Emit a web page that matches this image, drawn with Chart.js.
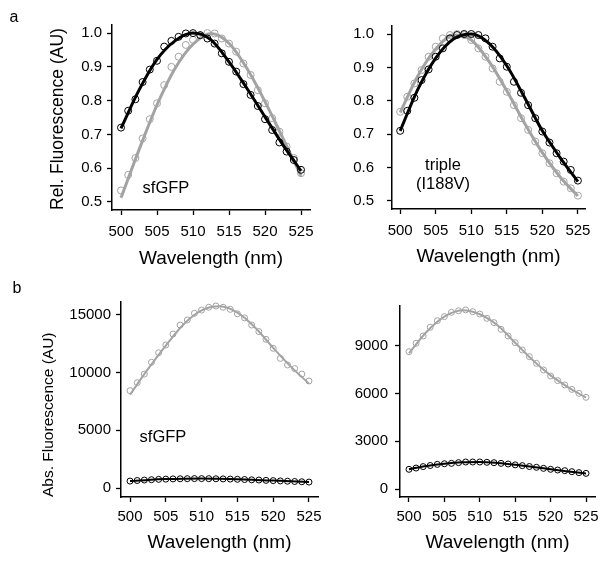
<!DOCTYPE html>
<html>
<head>
<meta charset="utf-8">
<script src="https://cdn.jsdelivr.net/npm/chart.js@4.4.1/dist/chart.umd.min.js"></script>
<style>
  html, body { margin: 0; padding: 0; background: #fff; }
  #wrap { position: relative; width: 608px; height: 561px; font-family: "Liberation Sans", Arial, sans-serif; color: #000; }
  #wrap canvas { position: absolute; left: 0; top: 0; }
  .lbl { position: absolute; transform: translate(-50%, -50%); white-space: nowrap; line-height: 1; text-align: center; }
</style>
</head>
<body>
<div id="wrap">
  <canvas id="aL" width="608" height="561"></canvas>
  <canvas id="aR" width="608" height="561"></canvas>
  <canvas id="bL" width="608" height="561"></canvas>
  <canvas id="bR" width="608" height="561"></canvas>
  <div class="lbl" style="left:14px;top:17px;font-size:16px">a</div>
  <div class="lbl" style="left:17px;top:288px;font-size:16px">b</div>
  <div class="lbl" style="left:166px;top:187px;font-size:16.5px">sfGFP</div>
  <div class="lbl" style="left:443px;top:164px;font-size:16.5px">triple</div>
  <div class="lbl" style="left:443px;top:183px;font-size:16.5px">(I188V)</div>
  <div class="lbl" style="left:163px;top:436px;font-size:16.5px">sfGFP</div>
</div>
<script>
  // --- データ ---
  const wavelengths = [500, 501, 502, 503, 504, 505, 506, 507, 508, 509, 510, 511, 512,
                       513, 514, 515, 516, 517, 518, 519, 520, 521, 522, 523, 524, 525];
  const fitWavelengths = [500, 502.5, 505, 507.5, 510, 512.5, 515, 517.5, 520, 522.5, 525];
  const wavelengthTicks = [500, 505, 510, 515, 520, 525];
  const relTicks = [0.5, 0.6, 0.7, 0.8, 0.9, 1.0];
  const absTicksSf = [0, 5000, 10000, 15000];
  const absTicksTriple = [0, 3000, 6000, 9000];

  // a: sfGFP (rel.)
  const relSfBlack = [0.720, 0.770, 0.804, 0.855, 0.892, 0.918, 0.960, 0.977, 0.989, 0.999, 1.000, 0.994, 0.984,
                      0.969, 0.940, 0.915, 0.886, 0.849, 0.817, 0.784, 0.745, 0.713, 0.676, 0.649, 0.624, 0.595];
  const relSfGray = [0.534, 0.580, 0.630, 0.688, 0.745, 0.792, 0.846, 0.900, 0.930, 0.965, 0.980, 0.994, 1.000,
                     0.999, 0.984, 0.969, 0.945, 0.910, 0.876, 0.831, 0.792, 0.748, 0.708, 0.664, 0.630, 0.585];
  const relSfBlackFit = [0.718, 0.831, 0.922, 0.977, 1.000, 0.980, 0.915, 0.836, 0.752, 0.669, 0.592];
  const relSfGrayFit = [0.512, 0.654, 0.787, 0.895, 0.967, 0.999, 0.970, 0.895, 0.797, 0.688, 0.577];

  // a: triple (I188V) (rel.)
  const relTriBlack = [0.710, 0.770, 0.809, 0.862, 0.894, 0.932, 0.957, 0.987, 0.997, 1.000, 1.000, 0.997, 0.987,
                       0.962, 0.927, 0.902, 0.857, 0.824, 0.787, 0.748, 0.708, 0.675, 0.643, 0.618, 0.593, 0.561];
  const relTriGray = [0.767, 0.812, 0.852, 0.892, 0.932, 0.962, 0.987, 0.997, 1.000, 0.997, 0.982, 0.957, 0.932,
                      0.897, 0.857, 0.827, 0.787, 0.748, 0.713, 0.678, 0.643, 0.613, 0.583, 0.558, 0.538, 0.516];
  const relTriBlackFit = [0.710, 0.835, 0.928, 0.985, 1.000, 0.972, 0.905, 0.810, 0.710, 0.630, 0.558];
  const relTriGrayFit = [0.765, 0.875, 0.955, 0.997, 0.982, 0.918, 0.830, 0.733, 0.645, 0.572, 0.515];

  // b: sfGFP (abs.)
  const absSfBlack = [600, 650, 690, 720, 750, 770, 790, 800, 810, 815, 815, 810, 800,
                      790, 775, 755, 735, 710, 690, 665, 640, 615, 590, 565, 540, 515];
  const absSfGray = [8440, 9130, 9880, 10900, 11730, 12400, 13350, 14130, 14570, 15150, 15430, 15670, 15780,
                     15670, 15490, 15100, 14750, 14130, 13560, 12890, 12110, 11240, 10670, 10350, 9880, 9280];
  const absSfBlackFit = [600, 700, 770, 805, 815, 795, 755, 700, 640, 580, 515];
  const absSfGrayFit = [8100, 10300, 12350, 14200, 15400, 15750, 15200, 13900, 12150, 10500, 9050];

  // b: triple (abs.)
  const absTriBlack = [1240, 1320, 1410, 1480, 1550, 1590, 1615, 1660, 1700, 1700, 1700, 1680, 1655,
                       1615, 1575, 1520, 1470, 1415, 1365, 1300, 1240, 1195, 1155, 1090, 1030, 985];
  const absTriGray = [8640, 9170, 9630, 10180, 10590, 10850, 11120, 11220, 11270, 11160, 11010, 10740, 10470,
                      10050, 9630, 9210, 8750, 8330, 7910, 7490, 7110, 6820, 6550, 6270, 6020, 5770];
  const absTriBlackFit = [1250, 1450, 1590, 1680, 1700, 1640, 1530, 1390, 1240, 1100, 980];
  const absTriGrayFit = [8550, 9900, 10850, 11250, 11000, 10300, 9200, 8100, 7150, 6400, 5750];

  const GRAY = "#a3a3a3";
  const BLACK = "#000";
  const FONT = "'Liberation Sans', Arial, sans-serif";

  const pts = (xs, ys) => xs.map((x, i) => ({ x, y: ys[i] }));

  // 1パネル分のチャート（全キャンバス同サイズで重ねる）
  const panel = (id, o) => {
    const fitDs = (ys, color) => ({
      data: pts(fitWavelengths, ys), showLine: true, borderColor: color, borderWidth: o.lw,
      pointRadius: 0, cubicInterpolationMode: "monotone", fill: false
    });
    const dotDs = (ys, color) => ({
      data: pts(wavelengths, ys), showLine: false, pointStyle: "circle", pointRadius: o.pr,
      borderColor: color, borderWidth: 1, backgroundColor: "rgba(0,0,0,0)"
    });
    const [L, T, R, B] = o.area;
    const axisGrid = { display: true, drawOnChartArea: false, drawTicks: true, tickLength: 5, tickColor: "#000", tickWidth: 1.3 };
    const axisBorder = { display: true, color: "#000", width: 1.5 };

    new Chart(document.getElementById(id), {
      type: "scatter",
      data: { datasets: [fitDs(o.blackFit, BLACK), dotDs(o.black, BLACK), fitDs(o.grayFit, GRAY), dotDs(o.gray, GRAY)] },
      options: {
        responsive: false, animation: false, events: [],
        layout: { padding: { left: L - o.yW, top: T, right: 608 - R, bottom: 561 - B - o.xH } },
        plugins: { legend: { display: false }, tooltip: { enabled: false } },
        scales: {
          x: {
            type: "linear", min: o.xMin, max: o.xMax,
            afterFit: s => { s.height = o.xH; },
            afterBuildTicks: s => { s.ticks = wavelengthTicks.map(v => ({ value: v })); },
            grid: axisGrid, border: axisBorder,
            ticks: { padding: o.xPad, color: "#000", font: { family: FONT, size: 15 }, maxRotation: 0, autoSkip: false, callback: v => String(v) },
            title: { display: true, text: "Wavelength (nm)", color: "#000", padding: 0, font: { family: FONT, size: 19, lineHeight: 1.2 } }
          },
          y: {
            type: "linear", min: o.yMin, max: o.yMax,
            afterFit: s => { s.width = o.yW; },
            afterBuildTicks: s => { s.ticks = o.yTicks.map(v => ({ value: v })); },
            grid: axisGrid, border: axisBorder,
            ticks: { padding: o.yPad, color: "#000", font: { family: FONT, size: 15 }, autoSkip: false, callback: o.fmt },
            title: o.yTitle
              ? { display: true, text: o.yTitle, align: "start", color: "#000", padding: 0, font: { family: FONT, size: o.yTitleSize, lineHeight: 1.2 } }
              : { display: false }
          }
        }
      }
    });
  };

  panel("aL", {
    area: [112, 25, 310, 210], xMin: 498.75, xMax: 526.25, yMin: 0.476, yMax: 1.024,
    yTicks: relTicks, fmt: v => v.toFixed(1), xH: 60.4, yW: 64.5, xPad: 8, yPad: 5, lw: 3, pr: 3.5,
    yTitle: "Rel. Fluorescence (AU)", yTitleSize: 17.5,
    black: relSfBlack, gray: relSfGray, blackFit: relSfBlackFit, grayFit: relSfGrayFit
  });
  panel("aR", {
    area: [392, 26, 585, 209], xMin: 498.85, xMax: 526.0, yMin: 0.476, yMax: 1.024,
    yTicks: relTicks, fmt: v => v.toFixed(1), xH: 59.4, yW: 50, xPad: 8, yPad: 13, lw: 3, pr: 3.5,
    black: relTriBlack, gray: relTriGray, blackFit: relTriBlackFit, grayFit: relTriGrayFit
  });
  panel("bL", {
    area: [121, 302, 318, 497], xMin: 498.74, xMax: 526.26, yMin: -780, yMax: 16127,
    yTicks: absTicksSf, fmt: v => String(v), xH: 57.4, yW: 81.6, xPad: 6, yPad: 5, lw: 2, pr: 3,
    yTitle: "Abs. Fluorescence (AU)", yTitleSize: 15.5,
    black: absSfBlack, gray: absSfGray, blackFit: absSfBlackFit, grayFit: absSfGrayFit
  });
  panel("bR", {
    area: [400, 306, 595, 497], xMin: 498.73, xMax: 526.27, yMin: -503, yMax: 11517,
    yTicks: absTicksTriple, fmt: v => String(v), xH: 57.4, yW: 50, xPad: 6, yPad: 7, lw: 2, pr: 3,
    black: absTriBlack, gray: absTriGray, blackFit: absTriBlackFit, grayFit: absTriGrayFit
  });
</script>
</body>
</html>
